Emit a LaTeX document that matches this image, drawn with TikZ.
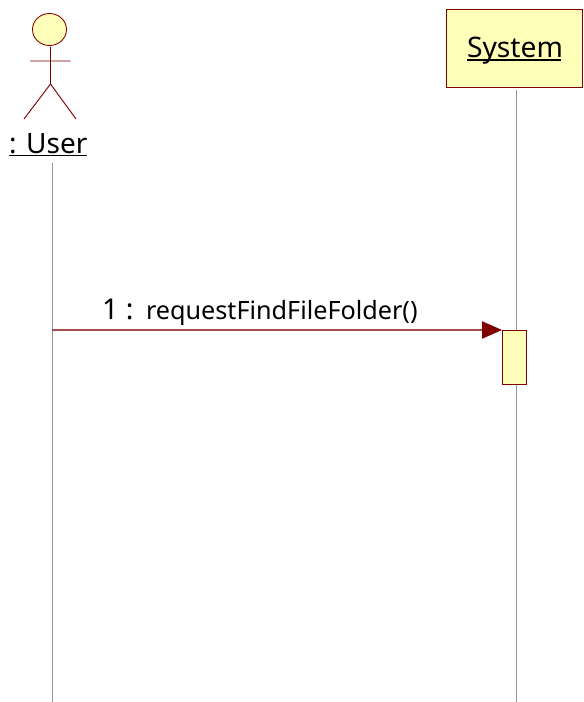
\documentclass[tikz,border=0pt]{standalone}
\usepackage{fontspec}
\setmainfont{Noto Sans}
\usetikzlibrary{arrows.meta,shapes.geometric}
\definecolor{umlred}{RGB}{128,0,0}
\definecolor{umlfill}{RGB}{255,255,185}
\definecolor{lifeline}{RGB}{150,150,150}
\tikzset{
 x=0.75pt,y=-0.75pt,
 umlbox/.style={draw=umlred,fill=umlfill,line width=0.65pt,inner sep=0pt,outer sep=0pt,rectangle},
 limb/.style={draw=umlred,line width=0.7pt},
 life/.style={draw=lifeline,line width=0.75pt},
 msg/.style={draw=umlred!70!white,line width=0.8pt,-{Triangle[length=15pt,width=13pt,fill=umlred,color=umlred]}},
 lab/.style={inner sep=0pt,outer sep=0pt,text=black,anchor=base west},
}
\begin{document}
\begin{tikzpicture}
\useasboundingbox (0,0) rectangle (583,702);
% actor
\node[umlbox,ellipse,minimum width=25.5pt,minimum height=24pt] (head) at (49.5,29.5) {};
\coordinate (neck) at (50.5,47);
\coordinate (hip) at (50.5,84);
\coordinate (armL) at (30,61);
\coordinate (armR) at (70.5,61);
\coordinate (legL) at (24,119);
\coordinate (legR) at (76,119);
\draw[limb] (neck) -- (hip) (armL) -- (armR) (legL) -- (hip) -- (legR);
\node[lab,font=\fontsize{21}{24}\selectfont] (user) at (9,153.5) {: User};
\coordinate (ua) at (9,155.5);
\coordinate (ub) at (87,155.5);
\draw[black,line width=1pt] (ua) -- (ub);
% system
\node[umlbox,minimum width=102pt,minimum height=58.5pt] (sys) at (514,48) {};
\node[lab,font=\fontsize{21.2}{24}\selectfont] (systxt) at (467,57.5) {System};
\coordinate (sa) at (467,60);
\coordinate (sb) at (561,60);
\draw[black,line width=1pt] (sa) -- (sb);
% lifelines
\coordinate (l1a) at (52,163);
\coordinate (l1b) at (52,702);
\coordinate (l2a) at (516,90);
\coordinate (l2b) at (516,702);
\draw[life] (l1a) -- (l1b);
\draw[life] (l2a) -- (l2b);
% activation
\node[umlbox,minimum width=18pt,minimum height=40.5pt] (act) at (514,357) {};
% message
\coordinate (m1) at (52,330);
\draw[msg] (m1) -- (act.north west);
\node[lab,font=\fontsize{21.5}{24}\selectfont] (n1) at (102,319) {1 :};
\node[lab,font=\fontsize{18.9}{22}\selectfont] (n2) at (146,319.5) {requestFindFileFolder()};
\end{tikzpicture}
\end{document}
